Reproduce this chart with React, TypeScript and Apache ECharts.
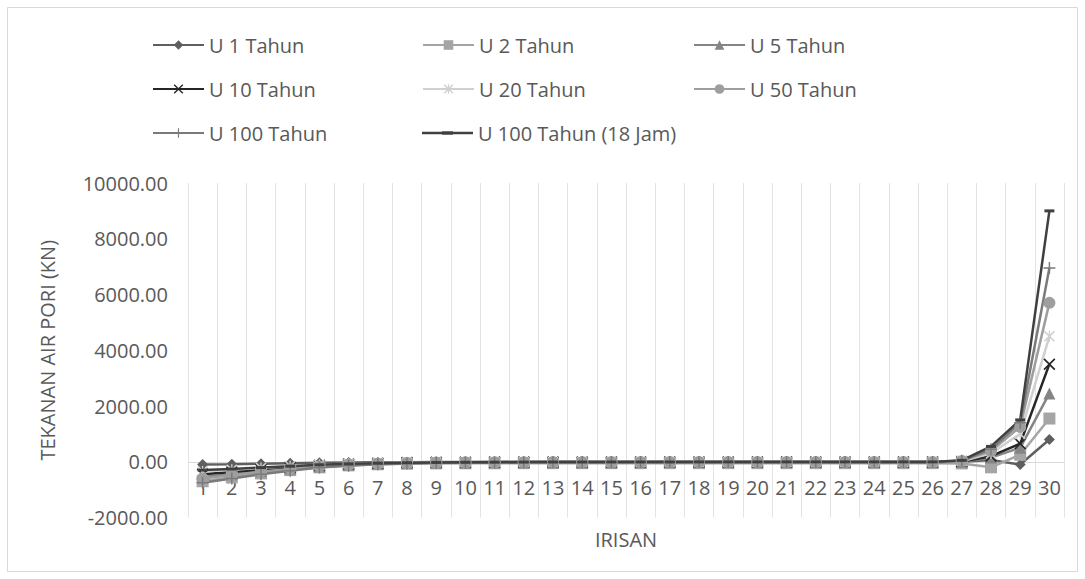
import React, { useEffect, useRef } from "react";
import * as echarts from "echarts";

const categories = Array.from({ length: 30 }, (_, i) => String(i + 1));

const seriesNames = [
  "U 1 Tahun",
  "U 2 Tahun",
  "U 5 Tahun",
  "U 10 Tahun",
  "U 20 Tahun",
  "U 50 Tahun",
  "U 100 Tahun",
  "U 100 Tahun (18 Jam)",
];

const u1 = [-100, -90, -70, -55, -40, -30, -20, -15, -10, -8, -6, -5, -4, -3, -3, -2, -2, -2, -1, -1, -1, -1, -1, -1, -1, 0, 0, 60, -100, 800];
const u2 = [-700, -560, -420, -300, -200, -130, -90, -70, -60, -55, -55, -50, -50, -50, -50, -50, -50, -50, -50, -50, -50, -50, -50, -50, -50, -50, -60, -200, 250, 1550];
const u5 = [-550, -450, -340, -240, -160, -100, -60, -40, -30, -25, -20, -20, -18, -15, -15, -15, -12, -12, -10, -10, -10, -10, -10, -10, -10, -10, 0, 150, 500, 2450];
const u10 = [-450, -370, -280, -200, -130, -80, -50, -30, -20, -15, -12, -10, -10, -8, -8, -8, -6, -6, -6, -5, -5, -5, -5, -5, -5, -5, 10, 200, 650, 3500];
const u20 = [-350, -290, -220, -160, -110, -70, -45, -30, -20, -15, -12, -10, -10, -8, -8, -8, -6, -6, -6, -5, -5, -5, -5, -5, -5, -5, 20, 300, 1000, 4500];
const u50 = [-600, -480, -360, -260, -170, -110, -70, -45, -30, -22, -18, -15, -12, -12, -10, -10, -10, -8, -8, -8, -8, -8, -8, -8, -8, -8, 30, 380, 1250, 5700];
const u100 = [-750, -600, -450, -320, -210, -140, -90, -60, -40, -30, -25, -20, -18, -15, -15, -12, -12, -10, -10, -10, -10, -10, -10, -10, -10, -10, 40, 450, 1400, 6950];
const u100j18 = [-300, -260, -210, -160, -110, -75, -50, -35, -25, -20, -15, -12, -10, -10, -8, -8, -8, -6, -6, -6, -5, -5, -5, -5, -5, -5, 50, 550, 1500, 9000];

const seriesValues = [u1, u2, u5, u10, u20, u50, u100, u100j18];

const yTicks = { min: -2000, max: 10000, interval: 2000 };

const FONT = "'Open Sans', 'Liberation Sans', sans-serif";
const TXT = "#595959";

const X_PATH = "path://M0,1 L1,0 L5,4 L9,0 L10,1 L6,5 L10,9 L9,10 L5,6 L1,10 L0,9 L4,5 Z";
const PLUS_PATH = "path://M4.4,0 H5.6 V4.4 H10 V5.6 H5.6 V10 H4.4 V5.6 H0 V4.4 H4.4 Z";
const STAR_PATH = "path://M0,1 L1,0 L5,4 L9,0 L10,1 L6,5 L10,9 L9,10 L5,6 L1,10 L0,9 L4,5 Z M4.4,0 H5.6 V10 H4.4 Z";
const DASH_PATH = "path://M0,0 H10 V3 H0 Z";
const DASH_LEGEND = "path://M0,0.5 H20 V0 H31 V0.5 H51 V3 H31 V3.5 H20 V3 H0 Z";

const styles = [
  { color: "#5f5f5f", symbol: "diamond", size: 11, keep: false },
  { color: "#a5a5a5", symbol: "rect", size: 12, keep: false },
  { color: "#858585", symbol: "triangle", size: 12, keep: false },
  { color: "#262626", symbol: X_PATH, size: 12, keep: false },
  { color: "#d0d0d0", symbol: STAR_PATH, size: 11, keep: false },
  { color: "#9e9e9e", symbol: "circle", size: 12, keep: false },
  { color: "#7a7a7a", symbol: PLUS_PATH, size: 12, keep: false },
  { color: "#404040", symbol: DASH_PATH, size: 10, keep: true },
];

const legendPos = [
  { left: 152, top: 47 },
  { left: 422, top: 47 },
  { left: 693, top: 47 },
  { left: 152, top: 91 },
  { left: 422, top: 91 },
  { left: 693, top: 91 },
  { left: 152, top: 135 },
  { left: 422, top: 135 },
];

export default function App() {
  const ref = useRef<HTMLDivElement>(null);
  useEffect(() => {
    if (!ref.current) return;
    const chart = echarts.init(ref.current, null, { renderer: "svg" });
    const option: any = {
      animation: false,
      backgroundColor: "#ffffff",
      textStyle: { fontFamily: FONT },
      graphic: [
        {
          type: "rect",
          shape: { x: 7.5, y: 7.5, width: 1070, height: 564 },
          style: { fill: "none", stroke: "#d9d9d9", lineWidth: 1 },
          silent: true,
        },
      ],
      legend: seriesNames.map((name, i) => ({
        data: [i === 7 ? { name, icon: DASH_LEGEND } : name],
        left: legendPos[i].left,
        top: legendPos[i].top - 12,
        padding: 0,
        itemWidth: 51,
        itemHeight: 12,
        itemGap: 0,
        selectedMode: false,
        symbolKeepAspect: true,
        textStyle: { fontSize: 20, color: TXT, fontFamily: FONT, padding: [0, 0, 0, 0] },
      })),
      grid: { left: 188, right: 21, top: 183, bottom: 61.5, containLabel: false, outerBoundsMode: "none" },
      xAxis: {
        type: "category",
        data: categories,
        boundaryGap: true,
        name: "IRISAN",
        nameLocation: "middle",
        nameGap: 12,
        nameTextStyle: { fontSize: 20, color: TXT, fontFamily: FONT },
        axisLine: { show: false, onZero: false },
        axisTick: { show: false },
        axisLabel: { interval: 0, fontSize: 20, color: TXT, fontFamily: FONT, margin: -40 },
        splitLine: { show: true, lineStyle: { color: "#e3e3e3", width: 1 } },
      },
      yAxis: {
        type: "value",
        min: yTicks.min,
        max: yTicks.max,
        interval: yTicks.interval,
        name: "TEKANAN AIR PORI (KN)",
        nameLocation: "middle",
        nameGap: 131,
        nameTextStyle: { fontSize: 20, color: TXT, fontFamily: FONT },
        axisLine: { show: false },
        axisTick: { show: false },
        axisLabel: {
          fontSize: 20,
          color: TXT,
          fontFamily: FONT,
          margin: 20,
          formatter: (v: number) => v.toFixed(2),
        },
        splitLine: { show: false },
      },
      series: seriesNames.map((name, i) => ({
        name,
        type: "line",
        data: seriesValues[i],
        symbol: styles[i].symbol,
        symbolSize: styles[i].size,
        symbolKeepAspect: styles[i].keep,
        showAllSymbol: true,
        lineStyle: { color: styles[i].color, width: 2.5 },
        itemStyle: { color: styles[i].color },
        emphasis: { disabled: true },
        z: 3,
        markLine:
          i === 0
            ? {
                silent: true,
                symbol: "none",
                label: { show: false },
                lineStyle: { color: "#d9d9d9", type: "solid", width: 1 },
                data: [{ yAxis: 0 }],
                z: 1,
              }
            : undefined,
      })),
    };
    chart.setOption(option);
    return () => chart.dispose();
  }, []);
  return (
    <div
      ref={ref}
      style={{ position: "absolute", left: 0, top: 0, width: 1085, height: 579 }}
    />
  );
}
